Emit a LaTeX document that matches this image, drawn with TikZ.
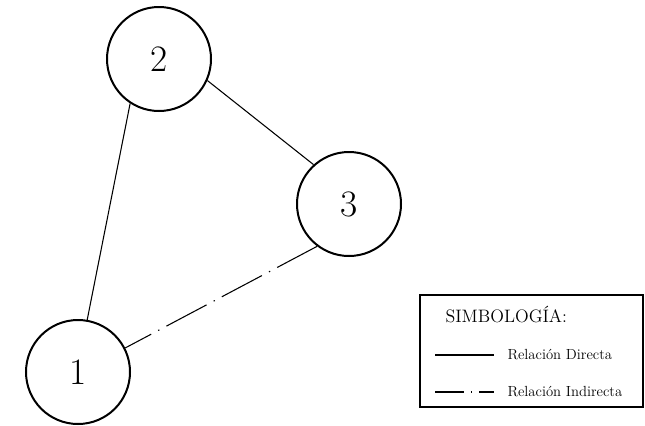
\documentclass[tikz,border=0pt]{standalone}
\usetikzlibrary{positioning}
\tikzset{
  every picture/.style={line width=0.8pt},
  vertex/.style={circle, draw, line width=1.5pt, minimum size=78pt, inner sep=0pt, font=\fontsize{28}{28}\selectfont},
  direct/.style={line width=0.8pt},
  indirect/.style={line width=0.8pt, dash pattern=on 34pt off 6pt on 1pt off 6pt, dash phase=12pt},
  legendbox/.style={draw, line width=1.8pt},
  legtext/.style={anchor=base west, inner sep=0pt, font=\fontsize{11}{11}\selectfont},
  legtitle/.style={anchor=base west, inner sep=0pt, font=\fontsize{13.5}{13.5}\selectfont},
}

\begin{document}
\begin{tikzpicture}[x=0.75pt, y=-0.75pt]
  \useasboundingbox (0,0) rectangle (645,425);
  % nodes
  \node[vertex] (n2) at (159,59) {2};
  \node[vertex] (n3) at (349,204) {3};
  \node[vertex] (n1) at (78,372) {1};
  % relations
  \draw[direct] (n1.80) -- (n2.237);
  \draw[direct] (n2.-24) -- (n3.132);
  \draw[indirect] (n1.27) -- (n3.233);
  % legend
  \draw[legendbox] (420,295) rectangle (643,407);
  \node[legtitle] (simb) at (445,322) {SIMBOLOGÍA:};
  \node[legtext] (ldir) at (507,359) {Relación Directa};
  \node[legtext] (lind) at (507,396) {Relación Indirecta};
  \coordinate (d0) at (435,355);
  \coordinate (d1) at (494,355);
  \coordinate (i0) at (435,392);
  \coordinate (i1) at (494,392);
  \draw[direct] (d0) -- (d1);
  \draw[line width=0.8pt, dash pattern=on 22pt off 5pt on 1pt off 5pt] (i0) -- (i1);
\end{tikzpicture}
\end{document}
